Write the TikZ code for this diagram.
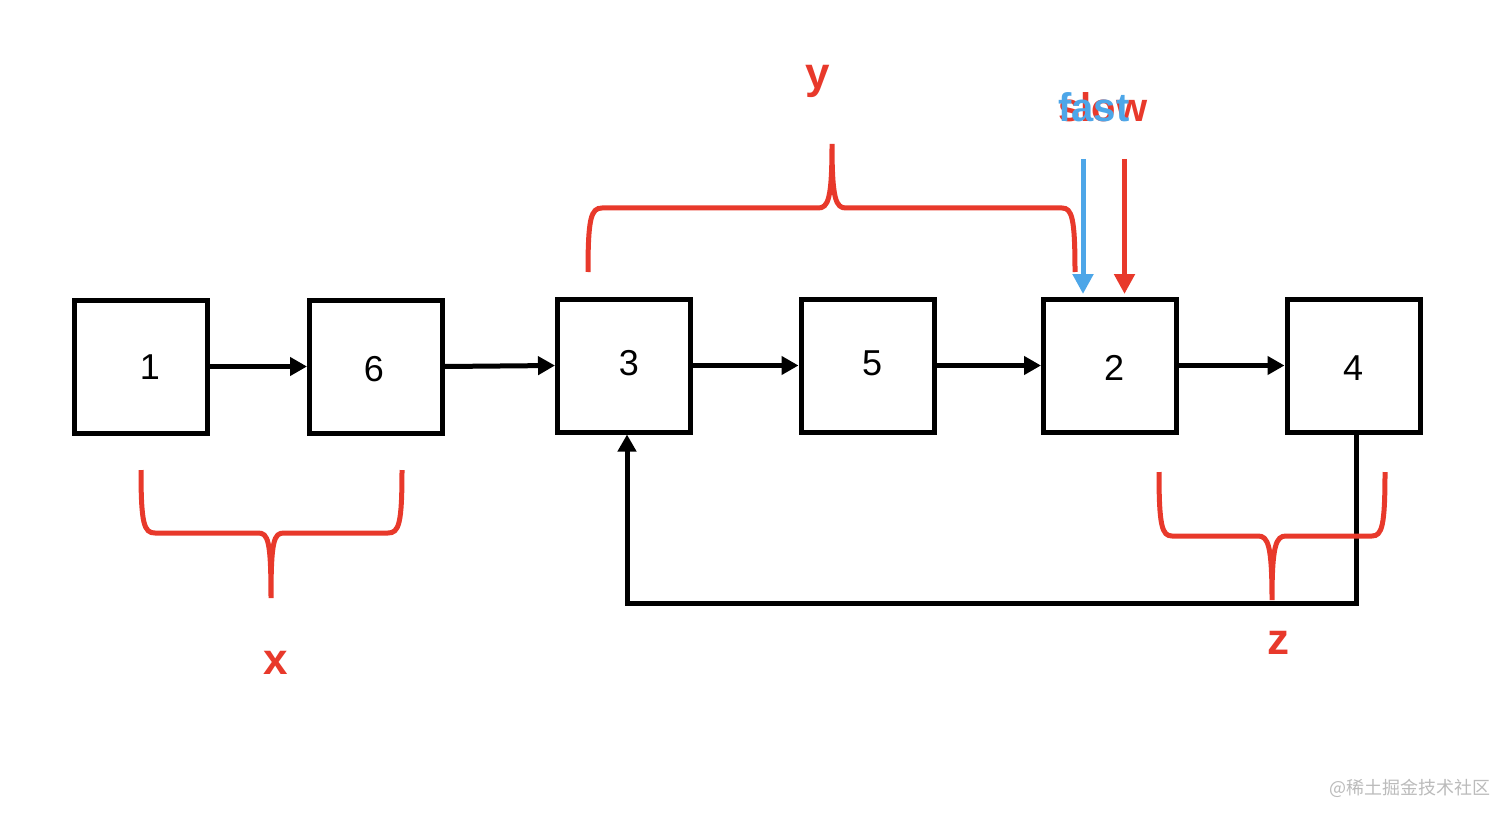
\documentclass[tikz,border=0pt]{standalone}
\usepackage{fontspec}
\setmainfont{Liberation Sans}
\newfontfamily\cjkfont{Noto Sans CJK SC}
\usetikzlibrary{arrows.meta}
\definecolor{bred}{HTML}{E8392B}
\definecolor{bblue}{HTML}{4DA6E8}
\definecolor{wmgray}{HTML}{BBBBBB}
\begin{document}
\begin{tikzpicture}[x=1pt,y=-1pt,
  box/.style={draw, line width=5pt, minimum width=133pt, minimum height=133pt, inner sep=0pt},
  digit/.style={font=\fontsize{36}{40}\selectfont, inner sep=0pt},
  conn/.style={line width=5pt, -{Triangle[length=17pt,width=18pt]}},
  brace/.style={draw=bred, line width=5pt},
  lbl/.style={font=\fontsize{44}{48}\selectfont\bfseries, text=bred, inner sep=0pt},
  ptr/.style={line width=5pt, -{Triangle[length=20pt,width=20pt]}},
  ptrtext/.style={font=\fontsize{40}{44}\selectfont\bfseries, inner sep=0pt, anchor=base west}]
\useasboundingbox (0,0) rectangle (1512,821);
% boxes
\node[box] (b1) at (141,366.5) {};
\node[box] (b6) at (376,366.5) {};
\node[box] (b3) at (624,365.5) {};
\node[box] (b5) at (867.5,365.5) {};
\node[box] (b2) at (1110,365.5) {};
\node[box] (b4) at (1353.5,365.5) {};
% digits
\node[digit] (t1) at (150,367) {1};
\node[digit] (t6) at (374,369) {6};
\node[digit] (t3) at (629,363) {3};
\node[digit] (t5) at (872,363) {5};
\node[digit] (t2) at (1114,368) {2};
\node[digit] (t4) at (1353,368) {4};
% connectors
\draw[conn] (b1.east) -- (b6.west);
\draw[conn] (b6.east) -- (b3.west);
\draw[conn] (b3.east) -- (b5.west);
\draw[conn] (b5.east) -- (b2.west);
\draw[conn] (b2.east) -- (b4.west);
\coordinate (lp) at (990,603);
\draw[conn] ([xshift=2.5pt]b4.south) |- (lp) -| ([xshift=3pt]b3.south);
% braces
\draw[brace] (141,470) .. controls (141,524) and (144,533) .. (155,533) -- (258,533)
  .. controls (268,533) and (271,540) .. (271,598)
  .. controls (271,540) and (274,533) .. (284,533) -- (388,533)
  .. controls (399,533) and (402,524) .. (402,470);
\draw[brace] (588,272) .. controls (588,218) and (591,208) .. (602,208) -- (818,208)
  .. controls (828,208) and (832,200) .. (832,144)
  .. controls (832,200) and (836,208) .. (846,208) -- (1062,208)
  .. controls (1072,208) and (1075,218) .. (1075,272);
\draw[brace] (1159,472) .. controls (1159,526) and (1162,536) .. (1172,536) -- (1258,536)
  .. controls (1268,536) and (1272,545) .. (1272,600)
  .. controls (1272,545) and (1276,536) .. (1286,536) -- (1372,536)
  .. controls (1382,536) and (1385,526) .. (1385,472);
% brace labels
\node[lbl] (lx) at (276,663) {x};
\node[lbl] (ly) at (818,81) {y};
\node[lbl] (lz) at (1278,643) {z};
% fast / slow pointers
\coordinate (ss) at (1124.5,159);
\coordinate (se) at (1124.5,294);
\coordinate (fs) at (1083,159);
\coordinate (fe) at (1083,294);
\draw[ptr, draw=bred, fill=bred] (ss) -- (se);
\draw[ptr, draw=bblue, fill=bblue] (fs) -- (fe);
\node[ptrtext, text=bred] (slow) at (1058,122) {slow};
\node[ptrtext, text=bblue] (fast) at (1058,122) {fast};
% watermark
\node[anchor=west, text=wmgray, inner sep=0pt, font=\cjkfont\fontsize{18}{20}\selectfont] (wm) at (1329,788) {@稀土掘金技术社区};
\end{tikzpicture}
\end{document}
